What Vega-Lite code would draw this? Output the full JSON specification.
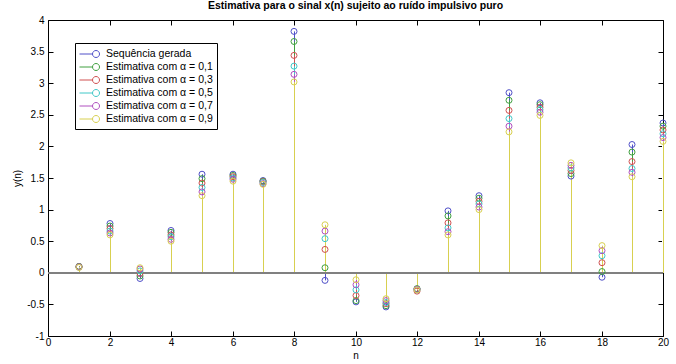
{
  "$schema": "https://vega.github.io/schema/vega-lite/v6.json",
  "width": 615,
  "height": 316,
  "autosize": "none",
  "padding": {"left": 48, "top": 20, "right": 13, "bottom": 28},
  "background": "white",
  "config": {
    "view": {"stroke": "black", "strokeWidth": 1},
    "font": "Liberation Sans",
    "axis": {"domain": false, "grid": false, "tickColor": "black", "tickSize": -5, "labelColor": "black", "labelFontSize": 10, "labelFont": "Liberation Sans", "titleFont": "Liberation Sans", "titleFontSize": 10, "titleFontWeight": "normal", "titleColor": "black", "labelFlush": false},
    "legend": {"title": null, "orient": "none", "legendX": 27, "legendY": 23, "strokeColor": "black", "fillColor": "white", "padding": 4, "labelFontSize": 10.5, "labelFont": "Liberation Sans", "labelColor": "black", "labelOffset": 13, "symbolType": "M-1,0L1,0M1,0A0.54,0.54,0,1,1,2.08,0A0.54,0.54,0,1,1,1,0", "symbolSize": 169, "symbolStrokeWidth": 1, "symbolFillColor": "transparent", "rowPadding": 0}
  },
  "title": {"text": "Estimativa para o sinal x(n) sujeito ao ruído impulsivo puro", "fontSize": 10.5, "fontWeight": "bold", "font": "Liberation Sans", "color": "black", "offset": 4, "anchor": "middle"},
  "data": {"values": [
    {"n": 1, "Sequência gerada": 0.10, "Estimativa com α = 0,1": 0.10, "Estimativa com α = 0,3": 0.095, "Estimativa com α = 0,5": 0.09, "Estimativa com α = 0,7": 0.09, "Estimativa com α = 0,9": 0.085},
    {"n": 2, "Sequência gerada": 0.78, "Estimativa com α = 0,1": 0.74, "Estimativa com α = 0,3": 0.70, "Estimativa com α = 0,5": 0.66, "Estimativa com α = 0,7": 0.63, "Estimativa com α = 0,9": 0.60},
    {"n": 3, "Sequência gerada": -0.09, "Estimativa com α = 0,1": -0.05, "Estimativa com α = 0,3": -0.01, "Estimativa com α = 0,5": 0.03, "Estimativa com α = 0,7": 0.06, "Estimativa com α = 0,9": 0.08},
    {"n": 4, "Sequência gerada": 0.67, "Estimativa com α = 0,1": 0.64, "Estimativa com α = 0,3": 0.60, "Estimativa com α = 0,5": 0.57, "Estimativa com α = 0,7": 0.53, "Estimativa com α = 0,9": 0.50},
    {"n": 5, "Sequência gerada": 1.56, "Estimativa com α = 0,1": 1.49, "Estimativa com α = 0,3": 1.42, "Estimativa com α = 0,5": 1.35, "Estimativa com α = 0,7": 1.28, "Estimativa com α = 0,9": 1.22},
    {"n": 6, "Sequência gerada": 1.56, "Estimativa com α = 0,1": 1.54, "Estimativa com α = 0,3": 1.52, "Estimativa com α = 0,5": 1.50, "Estimativa com α = 0,7": 1.48, "Estimativa com α = 0,9": 1.45},
    {"n": 7, "Sequência gerada": 1.46, "Estimativa com α = 0,1": 1.45, "Estimativa com α = 0,3": 1.44, "Estimativa com α = 0,5": 1.43, "Estimativa com α = 0,7": 1.41, "Estimativa com α = 0,9": 1.40},
    {"n": 8, "Sequência gerada": 3.82, "Estimativa com α = 0,1": 3.66, "Estimativa com α = 0,3": 3.44, "Estimativa com α = 0,5": 3.27, "Estimativa com α = 0,7": 3.14, "Estimativa com α = 0,9": 3.02},
    {"n": 9, "Sequência gerada": -0.12, "Estimativa com α = 0,1": 0.08, "Estimativa com α = 0,3": 0.37, "Estimativa com α = 0,5": 0.54, "Estimativa com α = 0,7": 0.66, "Estimativa com α = 0,9": 0.76},
    {"n": 10, "Sequência gerada": -0.46, "Estimativa com α = 0,1": -0.44, "Estimativa com α = 0,3": -0.36, "Estimativa com α = 0,5": -0.27, "Estimativa com α = 0,7": -0.19, "Estimativa com α = 0,9": -0.11},
    {"n": 11, "Sequência gerada": -0.54, "Estimativa com α = 0,1": -0.52, "Estimativa com α = 0,3": -0.49, "Estimativa com α = 0,5": -0.47, "Estimativa com α = 0,7": -0.44, "Estimativa com α = 0,9": -0.41},
    {"n": 12, "Sequência gerada": -0.26, "Estimativa com α = 0,1": -0.25, "Estimativa com α = 0,3": -0.29, "Estimativa com α = 0,5": -0.27, "Estimativa com α = 0,7": -0.26, "Estimativa com α = 0,9": -0.27},
    {"n": 13, "Sequência gerada": 0.98, "Estimativa com α = 0,1": 0.90, "Estimativa com α = 0,3": 0.79, "Estimativa com α = 0,5": 0.71, "Estimativa com α = 0,7": 0.65, "Estimativa com α = 0,9": 0.60},
    {"n": 14, "Sequência gerada": 1.22, "Estimativa com α = 0,1": 1.18, "Estimativa com α = 0,3": 1.13, "Estimativa com α = 0,5": 1.09, "Estimativa com α = 0,7": 1.04, "Estimativa com α = 0,9": 1.00},
    {"n": 15, "Sequência gerada": 2.85, "Estimativa com α = 0,1": 2.73, "Estimativa com α = 0,3": 2.57, "Estimativa com α = 0,5": 2.44, "Estimativa com α = 0,7": 2.32, "Estimativa com α = 0,9": 2.23},
    {"n": 16, "Sequência gerada": 2.69, "Estimativa com α = 0,1": 2.66, "Estimativa com α = 0,3": 2.62, "Estimativa com α = 0,5": 2.58, "Estimativa com α = 0,7": 2.54, "Estimativa com α = 0,9": 2.49},
    {"n": 17, "Sequência gerada": 1.53, "Estimativa com α = 0,1": 1.57, "Estimativa com α = 0,3": 1.62, "Estimativa com α = 0,5": 1.66, "Estimativa com α = 0,7": 1.70, "Estimativa com α = 0,9": 1.74},
    {"n": 18, "Sequência gerada": -0.07, "Estimativa com α = 0,1": 0.02, "Estimativa com α = 0,3": 0.16, "Estimativa com α = 0,5": 0.27, "Estimativa com α = 0,7": 0.35, "Estimativa com α = 0,9": 0.43},
    {"n": 19, "Sequência gerada": 2.03, "Estimativa com α = 0,1": 1.91, "Estimativa com α = 0,3": 1.76, "Estimativa com α = 0,5": 1.65, "Estimativa com α = 0,7": 1.59, "Estimativa com α = 0,9": 1.52},
    {"n": 20, "Sequência gerada": 2.37, "Estimativa com α = 0,1": 2.32, "Estimativa com α = 0,3": 2.26, "Estimativa com α = 0,5": 2.20, "Estimativa com α = 0,7": 2.14, "Estimativa com α = 0,9": 2.08}
  ]},
  "transform": [
    {"fold": ["Sequência gerada", "Estimativa com α = 0,1", "Estimativa com α = 0,3", "Estimativa com α = 0,5", "Estimativa com α = 0,7", "Estimativa com α = 0,9"], "as": ["s", "v"]}
  ],
  "layer": [
    {
      "transform": [{"filter": "datum.s !== 'Estimativa com α = 0,9'"}],
      "mark": {"type": "rule", "strokeWidth": 1, "xOffset": 0.5},
      "encoding": {
        "x": {"field": "n", "type": "quantitative", "scale": {"domain": [0, 20], "nice": false, "round": true}, "axis": {"orient": "top", "labels": false, "title": null, "values": [0, 2, 4, 6, 8, 10, 12, 14, 16, 18, 20]}},
        "y": {"field": "v", "type": "quantitative", "scale": {"domain": [-1, 4], "nice": false}, "axis": {"orient": "right", "labels": false, "title": null, "values": [-1, -0.5, 0, 0.5, 1, 1.5, 2, 2.5, 3, 3.5, 4]}},
        "y2": {"datum": 0},
        "color": {"field": "s", "type": "nominal", "scale": {"domain": ["Sequência gerada", "Estimativa com α = 0,1", "Estimativa com α = 0,3", "Estimativa com α = 0,5", "Estimativa com α = 0,7", "Estimativa com α = 0,9"], "range": ["#5050c8", "#40a040", "#d05050", "#40c8c8", "#b050c0", "#d8d050"]}}
      }
    },
    {
      "transform": [{"filter": "datum.s === 'Estimativa com α = 0,9'"}],
      "mark": {"type": "rule", "strokeWidth": 3, "xOffset": 0.5, "color": "white"},
      "encoding": {
        "x": {"field": "n", "type": "quantitative", "axis": null},
        "y": {"field": "v", "type": "quantitative", "axis": null},
        "y2": {"datum": 0}
      }
    },
    {
      "transform": [{"filter": "datum.s === 'Estimativa com α = 0,9'"}],
      "mark": {"type": "rule", "strokeWidth": 1, "xOffset": 0.5},
      "encoding": {
        "x": {"field": "n", "type": "quantitative", "axis": null},
        "y": {"field": "v", "type": "quantitative", "axis": null},
        "y2": {"datum": 0},
        "color": {"field": "s", "type": "nominal"}
      }
    },
    {
      "mark": {"type": "rule", "color": "#808080", "strokeWidth": 1.5},
      "encoding": {"y": {"datum": 0, "type": "quantitative", "axis": null}}
    },
    {
      "mark": {"type": "point", "filled": false, "strokeWidth": 1, "size": 36, "opacity": 1},
      "encoding": {
        "x": {"field": "n", "type": "quantitative", "axis": {"orient": "bottom", "title": "n", "values": [0, 2, 4, 6, 8, 10, 12, 14, 16, 18, 20], "labelPadding": 6, "titlePadding": 3}},
        "y": {"field": "v", "type": "quantitative", "axis": {"orient": "left", "title": "y(n)", "values": [-1, -0.5, 0, 0.5, 1, 1.5, 2, 2.5, 3, 3.5, 4], "labelExpr": "'' + datum.value", "labelPadding": 9, "titlePadding": 4}},
        "color": {"field": "s", "type": "nominal"}
      }
    }
  ],
  "resolve": {"axis": {"x": "independent", "y": "independent"}}
}
